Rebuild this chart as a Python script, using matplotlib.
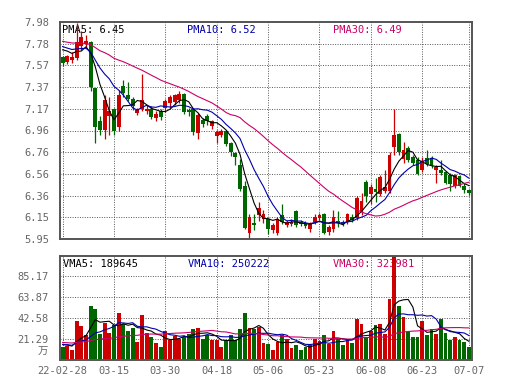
import numpy as np
import pandas as pd
import matplotlib
matplotlib.use("Agg")
import matplotlib.pyplot as plt

### Data ###
dates = ["22-02-28", "03-15", "03-30", "04-18", "05-06", "05-23", "06-08", "06-23", "07-07"]
date_idx = [0, 11, 22, 33, 44, 55, 66, 77, 87]

opens = [7.65, 7.61, 7.62, 7.64, 7.76, 7.77, 7.79, 7.36, 7.05, 6.97,
         7.10, 7.17, 7.00, 7.38, 7.30, 7.26, 7.13, 7.17, 7.15, 7.17,
         7.08, 7.15, 7.18, 7.22, 7.23, 7.25, 7.31, 7.16, 7.17, 6.94,
         7.06, 7.10, 7.01, 6.91, 6.92, 6.96, 6.85, 6.75, 6.64, 6.45,
         6.01, 6.10, 6.17, 6.14, 6.14, 6.03, 6.01, 6.17, 6.08, 6.09,
         6.21, 6.11, 6.10, 6.04, 6.11, 6.15, 6.18, 6.02, 6.04, 6.12,
         6.11, 6.11, 6.16, 6.15, 6.20, 6.48, 6.37, 6.42, 6.37, 6.40,
         6.40, 6.81, 6.93, 6.70, 6.80, 6.72, 6.69, 6.60, 6.71, 6.71,
         6.60, 6.60, 6.58, 6.55, 6.45, 6.54, 6.45, 6.41]
highs = [7.66, 7.67, 7.70, 7.97, 7.90, 7.86, 7.80, 7.36, 7.10, 7.30,
         7.28, 7.18, 7.34, 7.44, 7.42, 7.28, 7.18, 7.49, 7.20, 7.19,
         7.15, 7.17, 7.26, 7.30, 7.31, 7.33, 7.32, 7.18, 7.18, 7.13,
         7.08, 7.12, 7.06, 6.97, 6.98, 6.97, 6.86, 6.76, 6.70, 6.49,
         6.18, 6.18, 6.30, 6.22, 6.15, 6.10, 6.16, 6.28, 6.13, 6.14,
         6.22, 6.13, 6.12, 6.11, 6.18, 6.19, 6.19, 6.08, 6.22, 6.21,
         6.13, 6.19, 6.18, 6.35, 6.38, 6.50, 6.46, 6.52, 6.55, 6.60,
         6.76, 7.17, 6.94, 6.86, 6.82, 6.74, 6.72, 6.72, 6.78, 6.73,
         6.64, 6.69, 6.59, 6.57, 6.56, 6.55, 6.47, 6.42]
lows = [7.57, 7.59, 7.60, 7.62, 7.72, 7.74, 7.33, 6.85, 6.92, 6.89,
        6.92, 6.92, 6.96, 7.28, 7.24, 7.16, 7.11, 7.15, 7.12, 7.07,
        7.05, 7.06, 7.14, 7.18, 7.20, 7.22, 7.12, 7.10, 6.92, 6.89,
        7.00, 7.02, 6.98, 6.85, 6.90, 6.82, 6.73, 6.64, 6.40, 6.04,
        5.95, 6.03, 6.12, 6.10, 6.00, 6.01, 5.99, 6.09, 6.06, 6.07,
        6.06, 6.07, 6.05, 6.02, 6.09, 6.13, 6.00, 5.99, 6.02, 6.06,
        6.07, 6.09, 6.11, 6.13, 6.17, 6.30, 6.28, 6.30, 6.35, 6.38,
        6.38, 6.74, 6.74, 6.66, 6.67, 6.64, 6.55, 6.58, 6.63, 6.61,
        6.47, 6.55, 6.46, 6.40, 6.43, 6.44, 6.38, 6.36]
closes = [7.60, 7.66, 7.65, 7.79, 7.84, 7.80, 7.37, 7.00, 6.97, 7.25,
          7.15, 6.96, 7.30, 7.32, 7.26, 7.19, 7.16, 7.25, 7.17, 7.09,
          7.12, 7.09, 7.24, 7.28, 7.30, 7.31, 7.14, 7.14, 6.95, 7.11,
          7.03, 7.05, 7.05, 6.95, 6.96, 6.84, 6.76, 6.72, 6.42, 6.05,
          6.16, 6.08, 6.24, 6.18, 6.04, 6.08, 6.14, 6.11, 6.11, 6.11,
          6.08, 6.09, 6.07, 6.10, 6.16, 6.17, 6.01, 6.06, 6.16, 6.10,
          6.09, 6.18, 6.13, 6.33, 6.31, 6.35, 6.44, 6.39, 6.53, 6.44,
          6.74, 6.92, 6.76, 6.78, 6.69, 6.66, 6.56, 6.68, 6.65, 6.63,
          6.62, 6.57, 6.47, 6.46, 6.55, 6.45, 6.41, 6.38]
# volume in 万 (10k shares)
volumes = [13.3, 14.3, 10.0, 39.0, 34.3, 25.0, 54.3, 51.0, 26.3, 37.0,
           27.0, 35.7, 47.0, 36.7, 29.0, 32.3, 18.3, 45.0, 27.0, 23.3,
           17.0, 13.3, 29.7, 20.0, 24.3, 21.7, 23.3, 26.7, 31.0, 32.3,
           21.7, 25.7, 20.0, 20.0, 13.0, 20.0, 25.0, 20.0, 31.0, 47.0,
           32.3, 31.0, 33.0, 16.7, 15.7, 10.0, 18.3, 25.7, 21.0, 12.3,
           15.0, 10.0, 13.3, 15.0, 21.7, 19.0, 25.7, 15.7, 29.0, 21.7,
           15.0, 21.7, 16.7, 41.7, 36.7, 23.3, 29.0, 35.7, 36.7, 26.7,
           61.7, 118.0, 54.3, 43.3, 28.3, 23.3, 23.3, 39.0, 25.7, 31.0,
           26.7, 41.7, 27.7, 20.0, 23.3, 20.0, 17.7, 13.3]

# 29 sessions before the window, estimated so the MAs start where the chart shows
prior_close = [7.90, 7.86, 7.84, 7.88, 7.80, 7.76, 7.82, 7.85, 7.79, 7.83,
               7.87, 7.80, 7.78, 7.84, 7.81, 7.77, 7.83, 7.86, 7.80, 7.78,
               7.80, 7.78, 7.74, 7.80, 7.78, 7.72, 7.76, 7.70, 7.82]
prior_vol = [22.0, 19.5, 18.0, 21.0, 17.5, 19.0, 20.5, 16.5, 18.5, 19.0,
             17.0, 21.5, 18.0, 19.5, 17.5, 16.0, 20.0, 18.5, 17.0, 19.5,
             14.5, 16.0, 15.2, 14.8, 16.0, 17.5, 15.0, 16.2, 16.5]

price_ticks = [5.95, 6.153, 6.356, 6.559, 6.762, 6.965, 7.168, 7.371, 7.574, 7.777, 7.98]
price_labels = ["5.95", "6.15", "6.36", "6.56", "6.76", "6.96", "7.17", "7.37", "7.57", "7.78", "7.98"]
vol_ticks = [0, 21.29, 42.58, 63.87, 85.17]
vol_labels = ["", "21.29", "42.58", "63.87", "85.17"]

### Style ###
RED = "#cc0000"
GREEN = "#006600"
C_MA5 = "black"
C_MA10 = "#0000aa"
C_MA30 = "#cc0066"
GRID = "#555555"
TICKC = "#666666"
MONO = ["DejaVu Sans Mono", "Noto Sans CJK SC"]

plt.rcParams["font.family"] = MONO

n = len(closes)
x = np.arange(n)
o = np.array(opens); c = np.array(closes)
h = np.array(highs); l = np.array(lows)
v = np.array(volumes)
up = c >= o
cols = np.where(up, RED, GREEN)

allc = pd.Series(prior_close + closes)
alld = pd.Series(prior_vol + volumes)
pma = {k: allc.rolling(k).mean().to_numpy()[len(prior_close):] for k in (5, 10, 30)}
vma = {k: alld.rolling(k).mean().to_numpy()[len(prior_vol):] for k in (5, 10, 30)}

W, H = 520, 390
def px_rect(x0, y0, x1, y1):
    return [x0 / W, 1 - y1 / H, (x1 - x0) / W, (y1 - y0) / H]

fig = plt.figure(figsize=(5.2, 3.9), dpi=100)
fig.patch.set_facecolor("white")
ax1 = fig.add_axes(px_rect(60, 22, 472, 239))
ax2 = fig.add_axes(px_rect(60, 256, 472, 360))

for ax in (ax1, ax2):
    ax.set_xlim(-0.56, n - 0.34)
    ax.set_xticks(date_idx)
    ax.set_axisbelow(True)
    ax.grid(True, color=GRID, linestyle=(0, (1, 1.5)), linewidth=0.7)
    ax.tick_params(length=0, pad=8, labelsize=7.5, labelcolor=TICKC)
    for s in ax.spines.values():
        s.set_color("#555555")
        s.set_linewidth(1.4)
        s.set_zorder(6)

# candles
ax1.vlines(x, l, h, colors=cols, linewidth=0.9, zorder=3)
ax1.bar(x, np.maximum(np.abs(c - o), 0.006), bottom=np.minimum(o, c),
        width=0.82, color=cols, linewidth=0, zorder=3)
ax1.plot(x, pma[5], color=C_MA5, lw=0.8, zorder=4)
ax1.plot(x, pma[10], color=C_MA10, lw=0.8, zorder=4)
ax1.plot(x, pma[30], color=C_MA30, lw=0.8, zorder=4)
ax1.set_ylim(5.95, 7.98)
ax1.set_yticks(price_ticks)
ax1.set_yticklabels(price_labels)
ax1.tick_params(labelbottom=False)

tk = dict(transform=ax1.transAxes, va="top", ha="left", fontsize=7.5, zorder=1)
ax1.text(0.004, 0.985, "PMA5: 6.45", color=C_MA5, **tk)
ax1.text(0.308, 0.985, "PMA10: 6.52", color=C_MA10, **tk)
ax1.text(0.662, 0.985, "PMA30: 6.49", color=C_MA30, **tk)

# volume
ax2.bar(x, v, width=0.82, color=cols, linewidth=0, zorder=3)
ax2.plot(x, vma[5], color=C_MA5, lw=0.8, zorder=4)
ax2.plot(x, vma[10], color=C_MA10, lw=0.8, zorder=4)
ax2.plot(x, vma[30], color=C_MA30, lw=0.8, zorder=4)
ax2.set_ylim(0, 105)
ax2.set_yticks(vol_ticks)
ax2.set_yticklabels(vol_labels)
ax2.set_xticklabels(dates)
ax2.tick_params(axis="x", pad=4)
ax2.text(-0.029, 0.077, "万", transform=ax2.transAxes, ha="right", va="center",
         fontsize=7.5, color=TICKC, family=["Noto Sans CJK SC", "DejaVu Sans"])

tk2 = dict(transform=ax2.transAxes, va="top", ha="left", fontsize=7.5, zorder=1)
ax2.text(0.008, 0.97, "VMA5: 189645", color=C_MA5, **tk2)
ax2.text(0.311, 0.97, "VMA10: 250222", color=C_MA10, **tk2)
ax2.text(0.663, 0.97, "VMA30: 323981", color=C_MA30, **tk2)

fig.savefig("out.png", dpi=100)
